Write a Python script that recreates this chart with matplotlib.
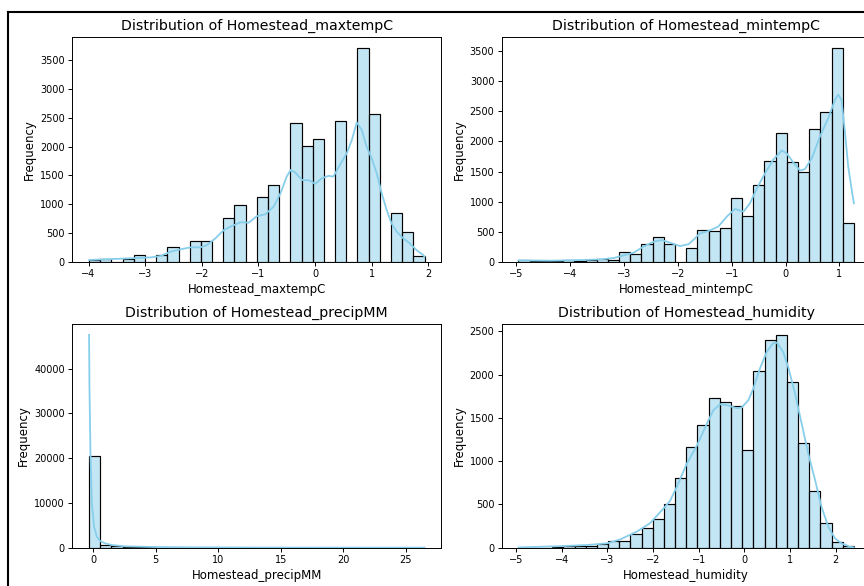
import numpy as np
import matplotlib
matplotlib.use("Agg")
import matplotlib.pyplot as plt
from matplotlib.lines import Line2D

# ---------------- data ----------------
variables = ["Homestead_maxtempC", "Homestead_mintempC",
             "Homestead_precipMM", "Homestead_humidity"]

# data ranges (first and last bin edge), 30 bins each
range_maxtemp = [-3.99, 1.933]
range_mintemp = [-4.96, 1.271]
range_precip = [-0.32, 26.5]
range_humidity = [-4.946, 2.401]

counts_maxtemp = [30, 52, 0, 52, 110, 0, 110, 250, 0, 352, 362, 0, 768, 985, 0,
                  1120, 1340, 0, 2410, 2010, 2140, 0, 2445, 0, 3715, 2570, 0, 840, 510, 105]
counts_mintemp = [28, 5, 5, 10, 22, 15, 20, 50, 28, 155, 125, 295, 417, 292, 0,
                  222, 528, 511, 567, 1055, 767, 1278, 1683, 2133, 1655, 1500, 2205, 2494, 3555, 650]
counts_precip = [20450, 600, 300, 150, 90, 60, 40, 25, 20, 15, 10, 8, 6, 5, 4,
                 3, 2, 2, 1, 1, 1, 1, 0, 1, 0, 0, 1, 0, 0, 1]
counts_humidity = [1, 0, 2, 10, 19, 15, 23, 38, 73, 77, 158, 223, 327, 508, 808,
                   1169, 1423, 1731, 1688, 1638, 1123, 2038, 2400, 2458, 1919, 1212, 658, 288, 69, 19]

kde_maxtemp_x = [-3.99, -3.725, -3.43, -3.14, -2.9, -2.73, -2.55, -2.375, -2.2, -2.02, -1.905,
                 -1.76, -1.61, -1.49, -1.32, -1.17, -1.03, -0.88, -0.73, -0.61, -0.5, -0.43,
                 -0.35, -0.23, -0.086, 0.0, 0.12, 0.236, 0.324, 0.44, 0.56, 0.65, 0.736, 0.824,
                 0.91, 1.0, 1.088, 1.176, 1.264, 1.35, 1.44, 1.557, 1.674, 1.79, 1.909, 1.933]
kde_maxtemp_y = [29, 41, 52, 64, 75, 99, 174, 215, 250, 250, 290,
                 406, 551, 610, 685, 679, 790, 824, 958, 1190, 1480, 1596,
                 1550, 1422, 1410, 1352, 1450, 1492, 1480, 1683, 1886, 2118, 2420, 2292,
                 2002, 1800, 1538, 1190, 900, 667, 522, 406, 319, 203, 116, 87]

kde_mintemp_x = [-4.96, -4.37, -3.75, -3.44, -3.19, -3.01, -2.82, -2.64, -2.45, -2.30, -2.14,
                 -1.96, -1.8, -1.68, -1.6, -1.43, -1.25, -1.09, -0.94, -0.78, -0.66, -0.53,
                 -0.38, -0.23, -0.07, 0.02, 0.145, 0.27, 0.36, 0.49, 0.64, 0.795, 0.92, 0.98,
                 1.04, 1.1, 1.165, 1.23, 1.271]
kde_mintemp_y = [22, 17, 28, 39, 61, 105, 150, 250, 333, 361, 315,
                 260, 290, 389, 465, 511, 583, 750, 878, 833, 972, 1222,
                 1472, 1694, 1850, 1805, 1650, 1517, 1539, 1722, 2083, 2389, 2694, 2778,
                 2694, 2194, 1583, 1194, 972]

kde_precip_x = [-0.32, -0.29, -0.21, -0.10, 0.08, 0.3, 0.56, 0.96, 1.49, 2.56, 4.96,
                8.0, 12.0, 16.0, 20.0, 26.5]
kde_precip_y = [47500, 36000, 21100, 9900, 4700, 2460, 1490, 970, 600, 300, 150,
                80, 40, 25, 15, 10]

kde_humidity_x = [-4.95, -3.96, -3.45, -3.01, -2.72, -2.36, -2.07, -1.77, -1.63, -1.48, -1.26,
                  -1.04, -0.82, -0.68, -0.53, -0.35, -0.17, -0.06, 0.087, 0.196, 0.34, 0.49,
                  0.634, 0.71, 0.85, 0.96, 1.11, 1.255, 1.40, 1.55, 1.69, 1.84, 1.985, 2.13,
                  2.31, 2.40]
kde_humidity_y = [3, 19, 31, 50, 96, 185, 281, 454, 540, 704, 973,
                  1180, 1435, 1588, 1658, 1642, 1612, 1619, 1704, 1838, 2069, 2262,
                  2365, 2369, 2262, 2088, 1781, 1435, 1088, 781, 473, 242, 108, 50,
                  12, 4]

xticks_maxtemp = [-4, -3, -2, -1, 0, 1, 2]
xticks_mintemp = [-5, -4, -3, -2, -1, 0, 1]
xticks_precip = [0, 5, 10, 15, 20, 25]
xticks_humidity = [-5, -4, -3, -2, -1, 0, 1, 2]

panels = [
    (variables[0], range_maxtemp, counts_maxtemp, kde_maxtemp_x, kde_maxtemp_y, xticks_maxtemp),
    (variables[1], range_mintemp, counts_mintemp, kde_mintemp_x, kde_mintemp_y, xticks_mintemp),
    (variables[2], range_precip, counts_precip, kde_precip_x, kde_precip_y, xticks_precip),
    (variables[3], range_humidity, counts_humidity, kde_humidity_x, kde_humidity_y, xticks_humidity),
]

# ---------------- figure ----------------
W, H = 864, 586
fig = plt.figure(figsize=(W / 100, H / 100), dpi=100)

def frac(left, top, right, bottom):
    return [left / W, 1 - bottom / H, (right - left) / W, (bottom - top) / H]

rects = [
    frac(72.3, 37.3, 441.3, 261.7),
    frac(501.7, 37.3, 870.7, 261.7),
    frac(72.3, 324.3, 441.3, 547.7),
    frac(501.7, 324.3, 870.7, 547.7),
]

bar_color = "skyblue"
for (name, rng, counts, kx, ky, xt), r in zip(panels, rects):
    ax = fig.add_axes(r)
    edges = np.linspace(rng[0], rng[1], len(counts) + 1)
    ax.bar(edges[:-1], counts, width=np.diff(edges), align="edge",
           facecolor=matplotlib.colors.to_rgba(bar_color, 0.5),
           edgecolor="black", linewidth=0.85)
    ax.plot(kx, ky, color=bar_color, linewidth=1.3)
    ax.set_xticks(xt)
    ax.set_title(f"Distribution of {name}", fontsize=10.2, pad=5)
    ax.set_xlabel(name, fontsize=8.5, labelpad=2.5)
    ax.set_ylabel("Frequency", fontsize=8.5, labelpad=3)
    ax.tick_params(labelsize=7, length=2.8, width=0.7, pad=2.5)
    for s in ax.spines.values():
        s.set_linewidth(0.7)
    ax.margins(x=0.05, y=0.05)
    ax.set_ylim(bottom=0)

# cropped outer border (left and top edges visible)
lw = 1.5
fig.add_artist(Line2D([8 / W, 8 / W], [0, 1 - 12 / H], color="black", linewidth=lw,
                      transform=fig.transFigure))
fig.add_artist(Line2D([8 / W, 1], [1 - 12 / H, 1 - 12 / H], color="black", linewidth=lw,
                      transform=fig.transFigure))

fig.savefig("out.png", dpi=100)
